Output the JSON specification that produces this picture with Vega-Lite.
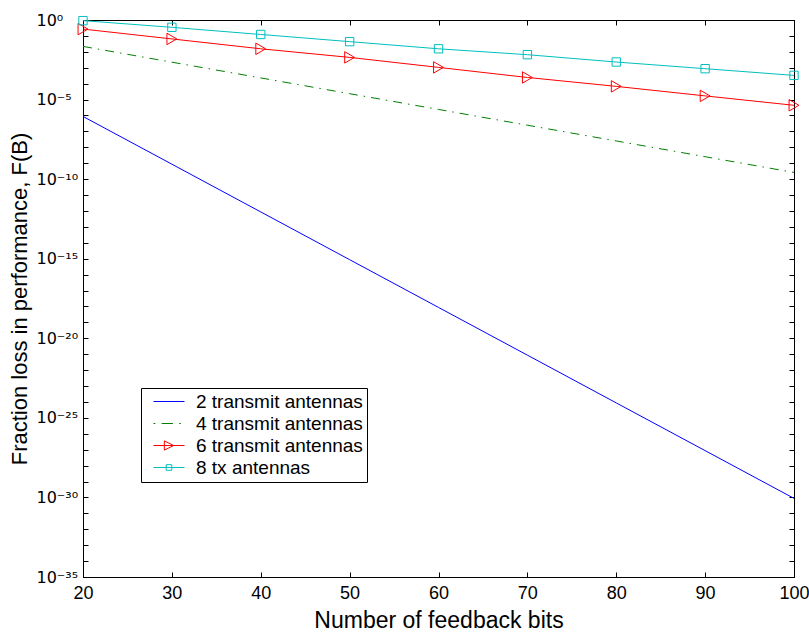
{
  "$schema": "https://vega.github.io/schema/vega-lite/v6.json",
  "width": 711,
  "height": 557,
  "autosize": {"type": "none"},
  "padding": {"left": 83, "top": 20, "right": 15, "bottom": 60},
  "background": "white",
  "config": {
    "view": {"stroke": "black", "strokeWidth": 1},
    "font": "Liberation Sans",
    "axis": {"grid": false, "domainColor": "black", "tickColor": "black", "labelColor": "black", "titleColor": "black", "labelFont": "Liberation Sans", "titleFont": "Liberation Sans", "titleFontWeight": "normal", "labelFontSize": 18, "titleFontSize": 22, "labelFlush": false, "labelOverlap": false}
  },
  "data": {"values": [
    {"B": 20, "F": 8.71e-7, "s": "2 transmit antennas"},
    {"B": 30, "F": 8.71e-10, "s": "2 transmit antennas"},
    {"B": 40, "F": 8.71e-13, "s": "2 transmit antennas"},
    {"B": 50, "F": 8.71e-16, "s": "2 transmit antennas"},
    {"B": 60, "F": 8.71e-19, "s": "2 transmit antennas"},
    {"B": 70, "F": 8.71e-22, "s": "2 transmit antennas"},
    {"B": 80, "F": 8.71e-25, "s": "2 transmit antennas"},
    {"B": 90, "F": 8.71e-28, "s": "2 transmit antennas"},
    {"B": 100, "F": 8.71e-31, "s": "2 transmit antennas"},
    {"B": 20, "F": 2.19e-2, "s": "4 transmit antennas"},
    {"B": 30, "F": 2.24e-3, "s": "4 transmit antennas"},
    {"B": 40, "F": 2.29e-4, "s": "4 transmit antennas"},
    {"B": 50, "F": 2.34e-5, "s": "4 transmit antennas"},
    {"B": 60, "F": 2.40e-6, "s": "4 transmit antennas"},
    {"B": 70, "F": 2.45e-7, "s": "4 transmit antennas"},
    {"B": 80, "F": 2.51e-8, "s": "4 transmit antennas"},
    {"B": 90, "F": 2.57e-9, "s": "4 transmit antennas"},
    {"B": 100, "F": 2.63e-10, "s": "4 transmit antennas"},
    {"B": 20, "F": 0.269, "s": "6 transmit antennas"},
    {"B": 30, "F": 6.46e-2, "s": "6 transmit antennas"},
    {"B": 40, "F": 1.55e-2, "s": "6 transmit antennas"},
    {"B": 50, "F": 4.47e-3, "s": "6 transmit antennas"},
    {"B": 60, "F": 1.05e-3, "s": "6 transmit antennas"},
    {"B": 70, "F": 2.45e-4, "s": "6 transmit antennas"},
    {"B": 80, "F": 6.76e-5, "s": "6 transmit antennas"},
    {"B": 90, "F": 1.70e-5, "s": "6 transmit antennas"},
    {"B": 100, "F": 4.37e-6, "s": "6 transmit antennas"},
    {"B": 20, "F": 0.912, "s": "8 tx antennas"},
    {"B": 30, "F": 0.347, "s": "8 tx antennas"},
    {"B": 40, "F": 0.123, "s": "8 tx antennas"},
    {"B": 50, "F": 4.37e-2, "s": "8 tx antennas"},
    {"B": 60, "F": 1.55e-2, "s": "8 tx antennas"},
    {"B": 70, "F": 6.61e-3, "s": "8 tx antennas"},
    {"B": 80, "F": 2.29e-3, "s": "8 tx antennas"},
    {"B": 90, "F": 8.71e-4, "s": "8 tx antennas"},
    {"B": 100, "F": 3.31e-4, "s": "8 tx antennas"}
  ]},
  "resolve": {"scale": {"x": "independent", "y": "independent"}},
  "layer": [
    {
      "encoding": {
        "x": {"field": "B", "type": "quantitative", "scale": {"domain": [20, 100], "nice": false},
          "axis": {"orient": "bottom", "values": [20, 30, 40, 50, 60, 70, 80, 90, 100], "tickSize": -5, "labelPadding": 12, "title": "Number of feedback bits", "titleFontSize": 23, "titlePadding": 7}},
        "y": {"field": "F", "type": "quantitative", "scale": {"type": "log", "domain": [1e-35, 1], "nice": false},
          "axis": {"orient": "left", "tickSize": -5, "labelPadding": 52, "labelAlign": "left", "labelFont": "DejaVu Sans", "labelFontSize": 16, "title": "Fraction loss in performance, F(B)", "titleFontSize": 22, "titlePadding": 4.5,
            "values": [1, 1e-1, 1e-2, 1e-3, 1e-4, 1e-5, 1e-6, 1e-7, 1e-8, 1e-9, 1e-10, 1e-11, 1e-12, 1e-13, 1e-14, 1e-15, 1e-16, 1e-17, 1e-18, 1e-19, 1e-20, 1e-21, 1e-22, 1e-23, 1e-24, 1e-25, 1e-26, 1e-27, 1e-28, 1e-29, 1e-30, 1e-31, 1e-32, 1e-33, 1e-34, 1e-35],
            "labelExpr": "round(log(datum.value)/LN10) == 0 ? '10⁰' : round(log(datum.value)/LN10) == -5 ? '10⁻⁵' : round(log(datum.value)/LN10) == -10 ? '10⁻¹⁰' : round(log(datum.value)/LN10) == -15 ? '10⁻¹⁵' : round(log(datum.value)/LN10) == -20 ? '10⁻²⁰' : round(log(datum.value)/LN10) == -25 ? '10⁻²⁵' : round(log(datum.value)/LN10) == -30 ? '10⁻³⁰' : round(log(datum.value)/LN10) == -35 ? '10⁻³⁵' : ''"}}
      },
      "layer": [
        {
          "transform": [{"filter": "datum.s == '2 transmit antennas'"}],
          "mark": {"type": "line", "strokeWidth": 1, "color": "#0000ff", "clip": true},
          "encoding": {}
        },
        {
          "transform": [{"filter": "datum.s == '4 transmit antennas'"}],
          "mark": {"type": "line", "strokeWidth": 1, "color": "#008000", "strokeDash": [9, 6, 1.5, 6], "clip": true},
          "encoding": {}
        },
        {
          "transform": [{"filter": "datum.s == '6 transmit antennas'"}],
          "mark": {"type": "line", "strokeWidth": 1, "color": "#ff0000", "clip": true},
          "encoding": {}
        },
        {
          "transform": [{"filter": "datum.s == '8 tx antennas'"}],
          "mark": {"type": "line", "strokeWidth": 1, "color": "#00bfbf", "clip": true},
          "encoding": {}
        },
        {
          "transform": [{"filter": "datum.s == '6 transmit antennas'"}],
          "mark": {"type": "point", "shape": "triangle-right", "filled": false, "color": "#ff0000", "size": 130, "strokeWidth": 1, "opacity": 1},
          "encoding": {}
        },
        {
          "transform": [{"filter": "datum.s == '8 tx antennas'"}],
          "mark": {"type": "point", "shape": "square", "filled": false, "color": "#00bfbf", "size": 70, "strokeWidth": 1, "opacity": 1},
          "encoding": {}
        },
        {
          "transform": [{"filter": "datum.B < 0"}],
          "mark": {"type": "point", "filled": false, "strokeWidth": 1, "opacity": 1},
          "encoding": {
            "color": {"field": "s", "type": "nominal",
              "scale": {"domain": ["2 transmit antennas", "4 transmit antennas", "6 transmit antennas", "8 tx antennas"], "range": ["#0000ff", "#008000", "#ff0000", "#00bfbf"]},
              "legend": {"orient": "none", "legendX": 58, "legendY": 368, "title": null, "strokeColor": "black", "fillColor": "white", "padding": 4, "labelFontSize": 19, "labelFont": "Liberation Sans", "labelColor": "black", "labelLimit": 400, "symbolSize": 256, "symbolStrokeWidth": 1, "symbolOpacity": 1, "labelOffset": 32, "rowPadding": 2, "labelExpr": "datum.label + '\u00a0\u00a0\u00a0\u00a0'"}},
            "shape": {"field": "s", "type": "nominal",
              "scale": {"domain": ["2 transmit antennas", "4 transmit antennas", "6 transmit antennas", "8 tx antennas"],
                "range": ["M-0.125,0H3.75", "M-0.125,0H0.1M0.9,0H2.3M3.1,0H3.3", "M-0.125,0H3.75M1.23,-0.58L2.4,0L1.23,0.58Z", "M-0.125,0H3.75M1.46,-0.35H2.16V0.35H1.46Z"]},
              "legend": {"orient": "none", "legendX": 58, "legendY": 368, "title": null, "strokeColor": "black", "fillColor": "white", "padding": 4, "labelFontSize": 19, "labelFont": "Liberation Sans", "labelColor": "black", "labelLimit": 400, "symbolSize": 256, "symbolStrokeWidth": 1, "symbolOpacity": 1, "labelOffset": 32, "rowPadding": 2, "labelExpr": "datum.label + '\u00a0\u00a0\u00a0\u00a0'"}}
          }
        }
      ]
    },
    {
      "transform": [{"filter": "datum.B < 0"}],
      "mark": {"type": "point", "opacity": 0},
      "encoding": {
        "x": {"field": "B", "type": "quantitative", "scale": {"domain": [20, 100], "nice": false},
          "axis": {"orient": "top", "values": [20, 30, 40, 50, 60, 70, 80, 90, 100], "tickSize": -5, "labels": false, "title": null}},
        "y": {"field": "F", "type": "quantitative", "scale": {"type": "log", "domain": [1e-35, 1], "nice": false},
          "axis": {"orient": "right", "tickSize": -5, "labels": false, "title": null,
            "values": [1, 1e-1, 1e-2, 1e-3, 1e-4, 1e-5, 1e-6, 1e-7, 1e-8, 1e-9, 1e-10, 1e-11, 1e-12, 1e-13, 1e-14, 1e-15, 1e-16, 1e-17, 1e-18, 1e-19, 1e-20, 1e-21, 1e-22, 1e-23, 1e-24, 1e-25, 1e-26, 1e-27, 1e-28, 1e-29, 1e-30, 1e-31, 1e-32, 1e-33, 1e-34, 1e-35]}}
      }
    }
  ]
}
